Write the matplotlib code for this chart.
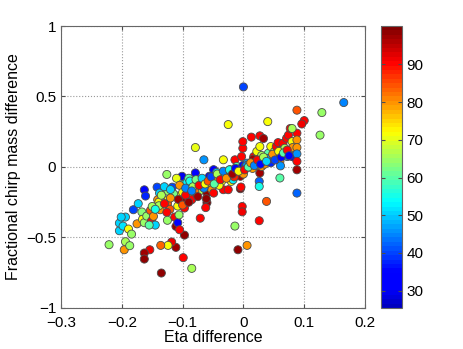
import numpy as np
import matplotlib
matplotlib.use('Agg')
import matplotlib.pyplot as plt
from matplotlib.colors import ListedColormap

plt.rcParams['font.family'] = ['Liberation Sans', 'DejaVu Sans']

# eta difference, fractional chirp mass difference, colour value
eta_diff = [
    0.000, 0.165, 0.129, 0.126, 0.088, 0.100, 0.096, 0.040, -0.025, -0.079,
    -0.065, 0.088, 0.088, 0.060, 0.038, 0.026, -0.002, -0.002, -0.014, 0.006,
    -0.009, -0.085, -0.099, -0.097, -0.111, -0.118, -0.124, -0.136, -0.135, -0.154,
    -0.163, -0.163, -0.221, -0.196, -0.194, -0.187, -0.204, -0.204, -0.198, -0.194,
    -0.189, -0.184, -0.201, -0.181, -0.173, -0.175, -0.167, -0.166, -0.163, -0.159,
    -0.153, -0.151, -0.148, -0.145, -0.155, -0.163, -0.161, -0.142, -0.138, -0.141,
    -0.139, -0.137, -0.139, -0.126, -0.124, -0.124, -0.125, -0.121, -0.126, -0.125,
    -0.117, -0.113, -0.111, -0.108, -0.108, -0.109, -0.106, -0.105, -0.101, -0.099,
    -0.097, -0.097, -0.093, -0.091, -0.089, -0.085, -0.082, -0.079, -0.077, -0.077,
    -0.071, -0.066, -0.063, -0.060, -0.071, -0.060, -0.061, -0.062, -0.056, -0.055,
    -0.052, -0.049, -0.049, -0.044, -0.044, -0.038, -0.036, -0.033, -0.033, -0.027,
    -0.025, -0.022, -0.020, -0.017, -0.014, -0.011, -0.008, -0.005, -0.005, -0.004,
    -0.003, -0.001, -0.001, -0.001, 0.003, 0.006, 0.013, 0.017, 0.016, 0.011,
    0.019, 0.022, 0.027, 0.033, 0.027, 0.030, 0.025, 0.027, 0.026, 0.026,
    0.030, 0.035, 0.041, 0.043, 0.045, 0.048, 0.051, 0.054, 0.054, 0.057,
    0.060, 0.060, 0.061, 0.065, 0.068, 0.071, 0.072, 0.074, 0.077, 0.080,
    0.081, 0.080, 0.083, 0.088, 0.088, 0.088, 0.088, 0.088, 0.080,
    -0.090, -0.085, -0.070, -0.065, -0.050, -0.045, -0.040, -0.030, -0.020, -0.015,
    -0.010, 0.000, 0.005, 0.010, 0.015, 0.020, 0.030, 0.035, 0.040, 0.045,
    -0.110, -0.105, -0.115, -0.130, -0.120, -0.135, -0.100, -0.095, -0.080, -0.075,
    -0.095, -0.088, -0.083, -0.078, -0.073, -0.068, -0.063, -0.058, -0.053, -0.048,
    -0.043, -0.038, -0.033, -0.028, -0.023, -0.018, -0.013, -0.008, 0.002, 0.008,
    0.012, 0.018, 0.023, 0.028, 0.033, 0.038, 0.048, 0.052, 0.058, 0.062,
    0.066, 0.072, 0.075, -0.150, -0.145, -0.130, -0.120, -0.107, -0.100, -0.090,
    -0.085,
]
chirp_diff = [
    0.568, 0.457, 0.386, 0.226, 0.403, 0.329, 0.305, 0.322, 0.301, 0.138,
    0.051, -0.185, -0.020, -0.078, -0.244, -0.381, -0.280, -0.318, -0.419, -0.556,
    -0.587, -0.719, -0.643, -0.483, -0.570, -0.532, -0.556, -0.556, -0.752, -0.587,
    -0.610, -0.653, -0.551, -0.587, -0.530, -0.558, -0.452, -0.398, -0.419, -0.355,
    -0.440, -0.476, -0.355, -0.303, -0.260, -0.403, -0.319, -0.371, -0.395, -0.348,
    -0.308, -0.381, -0.350, -0.412, -0.412, -0.162, -0.206, -0.143, -0.185, -0.232,
    -0.249, -0.303, -0.275, -0.053, -0.172, -0.232, -0.260, -0.300, -0.322, -0.378,
    -0.143, -0.355, -0.421, -0.395, -0.277, -0.206, -0.340, -0.445, -0.066, -0.124,
    -0.232, -0.291, -0.109, -0.166, -0.209, -0.232, -0.138, -0.042, -0.100, -0.185,
    -0.168, -0.138, -0.090, -0.185, -0.363, -0.253, -0.225, -0.288, -0.066, -0.114,
    -0.161, -0.185, -0.019, -0.038, -0.114, -0.054, -0.102, 0.051, -0.161, -0.043,
    -0.161, -0.019, -0.102, -0.090, 0.051, 0.004, -0.043, -0.066, -0.154, -0.142,
    0.074, 0.133, 0.180, 0.011, 0.004, 0.027, 0.212, 0.074, 0.055, 0.004,
    0.016, 0.110, 0.221, 0.202, 0.145, 0.082, 0.008, -0.043, -0.102, -0.138,
    0.004, 0.040, 0.098, 0.055, 0.145, 0.074, 0.110, 0.145, 0.062, 0.173,
    0.090, 0.040, 0.008, 0.168, 0.133, 0.204, 0.074, 0.226, 0.273, 0.180,
    0.138, 0.074, 0.070, 0.240, 0.192, 0.138, 0.093, 0.040, 0.273,
    -0.080, -0.120, -0.110, -0.150, -0.090, -0.070, -0.130, -0.060, -0.040, -0.070,
    -0.020, -0.050, 0.010, 0.020, -0.010, 0.030, 0.050, 0.020, 0.060, 0.030,
    -0.080, -0.130, -0.190, -0.140, -0.220, -0.200, -0.180, -0.200, -0.170, -0.210,
    -0.150, -0.100, -0.140, -0.090, -0.130, -0.080, -0.120, -0.100, -0.070, -0.120,
    -0.050, -0.090, -0.030, -0.080, -0.020, -0.050, -0.010, -0.030, -0.020, 0.000,
    0.030, 0.010, 0.050, 0.020, 0.070, 0.040, 0.090, 0.050, 0.110, 0.070,
    0.100, 0.120, 0.080, -0.280, -0.300, -0.260, -0.160, -0.230, -0.270, -0.250,
    -0.170,
]
colour_val = [
    40, 45, 65, 65, 85, 90, 91, 72, 72, 70,
    46, 42, 97, 60, 85, 90, 90, 91, 64, 80,
    98, 66, 90, 98, 97, 91, 72, 83, 98, 91,
    97, 98, 65, 80, 66, 65, 50, 50, 52, 50,
    72, 65, 50, 40, 50, 80, 63, 72, 65, 65,
    85, 90, 80, 50, 60, 35, 38, 40, 50, 80,
    72, 80, 66, 65, 65, 72, 85, 85, 90, 65,
    40, 90, 98, 33, 72, 72, 65, 90, 30, 60,
    98, 90, 53, 60, 80, 90, 80, 32, 50, 90,
    66, 72, 60, 98, 90, 98, 98, 90, 34, 72,
    80, 90, 33, 50, 90, 53, 72, 72, 90, 80,
    90, 60, 72, 53, 90, 60, 97, 97, 98, 90,
    90, 90, 90, 33, 33, 46, 90, 90, 97, 34,
    58, 72, 90, 97, 72, 66, 80, 97, 42, 55,
    80, 34, 60, 42, 72, 46, 66, 90, 34, 90,
    34, 80, 46, 90, 66, 90, 46, 90, 90, 72,
    80, 33, 35, 90, 80, 80, 46, 90, 66,
    60, 52, 80, 45, 62, 78, 72, 55, 35, 88,
    60, 80, 45, 55, 78, 33, 60, 80, 47, 38,
    70, 80, 62, 50, 80, 66, 72, 90, 82, 97,
    45, 55, 66, 62, 90, 50, 72, 85, 40, 60,
    66, 90, 45, 80, 55, 97, 35, 72, 90, 60,
    80, 45, 90, 35, 66, 50, 80, 40, 72, 34,
    60, 90, 33, 66, 55, 90, 50, 97, 85, 98,
    45,
]

x_ticks = [-0.3, -0.2, -0.1, 0, 0.1, 0.2]
y_ticks = [-1, -0.5, 0, 0.5, 1]
cbar_ticks = [30, 40, 50, 60, 70, 80, 90]

# MATLAB-like jet, 64 steps, starting from a brighter blue
n = 64
t = np.linspace(0, 1, n)
r = np.clip(np.minimum(4 * t - 1.5, -4 * t + 4.5), 0, 1)
g = np.clip(np.minimum(4 * t - 0.5, -4 * t + 3.5), 0, 1)
b = np.clip(np.minimum(4 * t + 0.75, -4 * t + 2.5), 0, 1)
jet64 = ListedColormap(np.column_stack([r, g, b]))

fig = plt.figure(figsize=(4.63, 3.49), dpi=100)
ax = fig.add_axes([0.1318, 0.1175, 0.6566, 0.808])
cax = fig.add_axes([0.823, 0.1175, 0.045, 0.808])

sc = ax.scatter(eta_diff, chirp_diff, c=colour_val, cmap=jet64,
                vmin=25.4, vmax=100.2, s=34, edgecolors='0.3', linewidths=0.6, zorder=3)

ax.set_xlim(-0.3, 0.2)
ax.set_ylim(-1, 1)
ax.set_xticks(x_ticks)
ax.set_yticks(y_ticks)
ax.set_xticklabels(['\u22120.3', '\u22120.2', '\u22120.1', '0', '0.1', '0.2'])
ax.set_yticklabels(['\u22121', '\u22120.5', '0', '0.5', '1'])
ax.grid(True, linestyle=':', color='0.6', linewidth=0.8)
ax.set_axisbelow(True)
ax.tick_params(direction='in', length=3, labelsize=11, color='0.3', top=True, right=True)
ax.tick_params(axis='x', pad=6)
for sp in ax.spines.values():
    sp.set_color('0.4')
ax.set_xlabel('Eta difference', fontsize=11.5, labelpad=0)
ax.set_ylabel('Fractional chirp mass difference', fontsize=11.5, labelpad=4)

cb = fig.colorbar(sc, cax=cax, ticks=cbar_ticks)
cb.outline.set_edgecolor('0.4')
cax.tick_params(direction='in', length=3, labelsize=11, color='0.3', left=True, right=True)

fig.savefig('out.png', dpi=100)
